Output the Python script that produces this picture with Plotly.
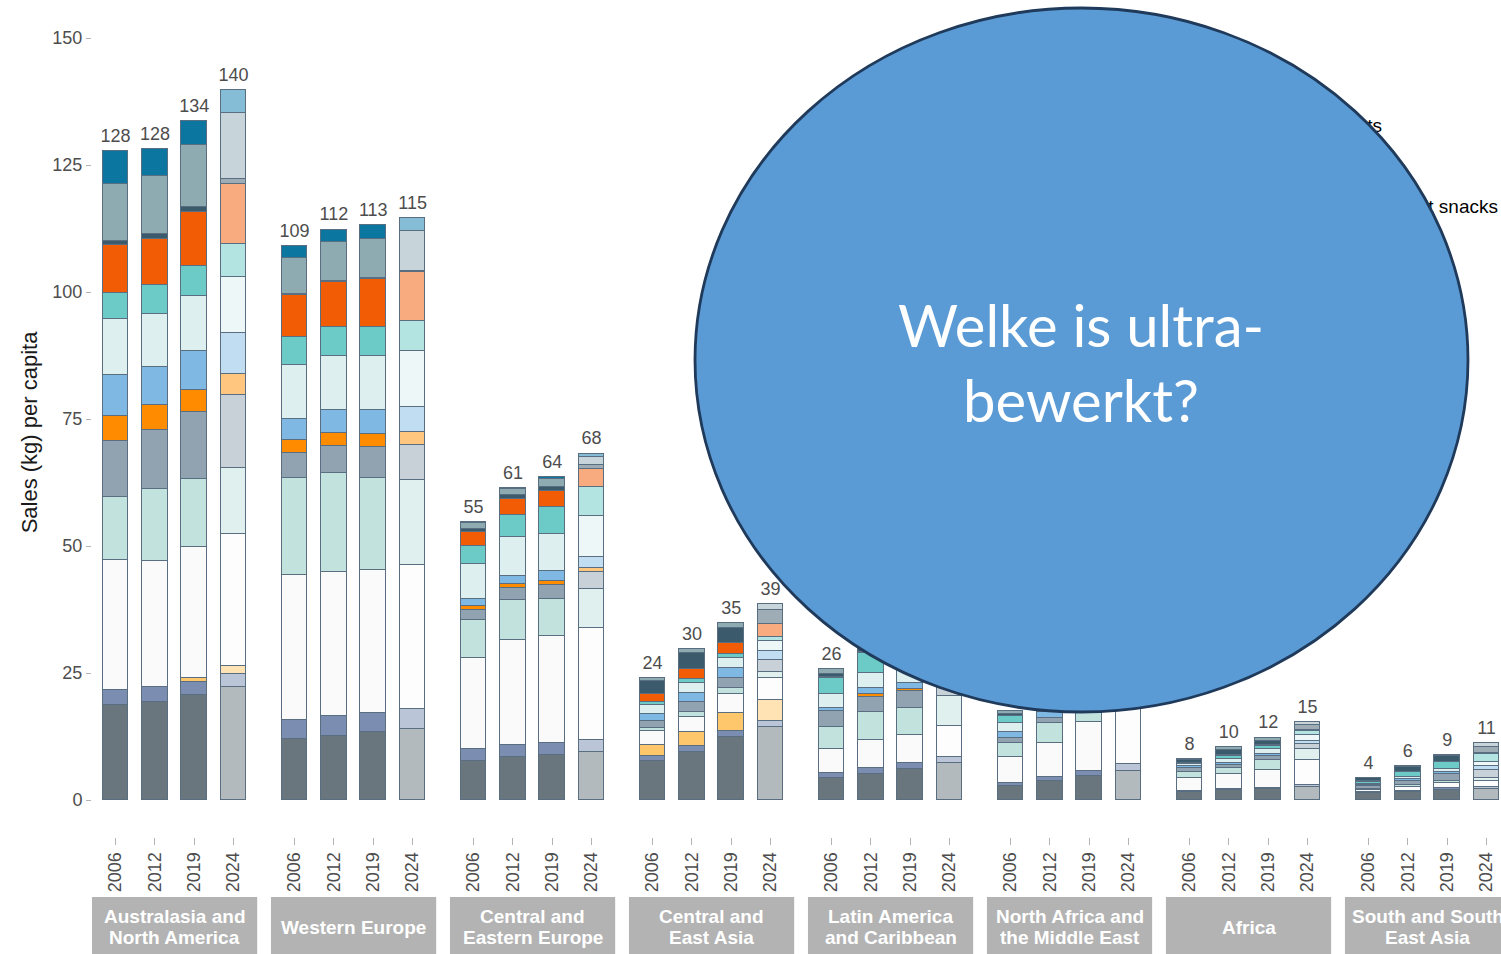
import plotly.graph_objects as go

# ---------------- data ----------------
regions = ["Australasia and<br>North America", "Western Europe", "Central and<br>Eastern Europe",
           "Central and<br>East Asia", "Latin America<br>and Caribbean", "North Africa and<br>the Middle East",
           "Africa", "South and South<br>East Asia"]
years = ["2006", "2012", "2019", "2024"]

# values per bar: region-major, years 2006, 2012, 2019, 2024
baked_goods = [18.8, 19.3, 20.7, 22.2, 12.1, 12.7, 13.3, 14.0, 7.7, 8.5, 8.9, 9.4, 7.6, 9.4, 12.5, 14.4,
               4.4, 5.2, 6.2, 7.2, 2.8, 3.8, 4.7, 5.7, 1.6, 2.0, 2.1, 2.6, 1.3, 1.6, 2.0, 2.2]
breakfast_cereals = [2.8, 3.0, 2.6, 2.7, 3.6, 3.9, 3.9, 3.9, 2.3, 2.3, 2.4, 2.5, 1.1, 1.2, 1.1, 1.1,
                     1.0, 1.2, 1.0, 1.3, 0.5, 0.8, 1.0, 1.3, 0.2, 0.2, 0.2, 0.4, 0.2, 0.2, 0.3, 0.3]
baby_food = [0, 0, 0.8, 1.4, 0, 0, 0, 0.1, 0, 0, 0, 0, 2.2, 2.7, 3.5, 4.1,
             0, 0, 0, 0, 0, 0, 0, 0, 0, 0, 0, 0, 0, 0, 0, 0]
dairy_products = [25.6, 24.8, 25.7, 26.0, 28.6, 28.3, 28.1, 28.3, 17.9, 20.7, 20.9, 22.0, 2.6, 3.1, 3.8, 4.4,
                  4.6, 5.5, 5.6, 6.1, 5.1, 6.6, 9.6, 11.5, 2.6, 2.9, 3.7, 4.8, 0.5, 0.8, 1.0, 1.3]
processed_meat = [12.5, 14.1, 13.3, 13.1, 19.0, 19.4, 18.0, 16.6, 7.5, 7.8, 7.3, 7.7, 0.7, 1.0, 1.2, 1.2,
                  4.3, 5.5, 5.4, 5.9, 2.8, 3.9, 3.5, 3.8, 1.2, 1.3, 1.9, 2.2, 0.2, 0.4, 0.5, 0.6]
ready_meals = [11.0, 11.6, 13.3, 14.3, 5.0, 5.4, 6.2, 6.9, 2.1, 2.5, 2.8, 3.2, 1.4, 1.8, 2.0, 2.3,
               3.2, 2.9, 3.2, 3.5, 1.1, 1.1, 1.3, 1.5, 0.8, 0.5, 0.8, 1.0, 0.6, 0.8, 1.3, 1.6]
sauces = [4.9, 5.0, 4.4, 4.2, 2.5, 2.5, 2.5, 2.6, 0.6, 0.7, 0.8, 0.8, 0, 0, 0, 0,
          0, 0.5, 0.4, 0.4, 0, 0, 0, 0, 0, 0, 0, 0, 0, 0, 0, 0]
ice_cream = [8.0, 7.5, 7.6, 8.0, 4.3, 4.5, 4.7, 5.0, 1.5, 1.6, 2.0, 2.2, 1.3, 1.8, 1.8, 1.8,
             0.7, 1.2, 1.2, 1.3, 1.0, 1.2, 1.3, 1.4, 0.3, 0.4, 0.4, 0.6, 0.2, 0.4, 0.5, 0.6]
spreads = [11.1, 10.4, 10.8, 11.0, 10.5, 10.8, 10.8, 10.9, 6.8, 7.7, 7.3, 8.1, 1.8, 2.0, 2.0, 2.0,
           2.6, 3.1, 3.3, 3.4, 1.9, 2.0, 2.2, 2.4, 0.3, 0.8, 1.0, 1.2, 0.2, 0.4, 0.5, 0.8]
confectionery = [5.2, 5.6, 5.9, 6.6, 5.6, 5.6, 5.7, 6.0, 3.7, 4.4, 5.3, 5.7, 0.5, 0.8, 0.8, 0.7,
                 3.3, 3.8, 4.2, 4.6, 1.3, 1.5, 1.7, 1.9, 0.2, 0.5, 0.5, 0.7, 0.4, 0.9, 1.3, 1.6]
sweet_biscuits = [9.3, 9.2, 10.6, 11.7, 8.2, 8.9, 9.4, 9.7, 2.7, 3.0, 3.1, 3.6, 1.6, 1.9, 2.3, 2.6,
                  0.1, 0.3, 0.3, 0.4, 0.1, 0.2, 0.2, 0.3, 0.1, 0.2, 0.2, 0.3, 0.1, 0.1, 0.1, 0.2]
instant_noodles = [0.9, 1.0, 1.1, 1.1, 0.2, 0.2, 0.2, 0.2, 0.6, 0.8, 0.8, 0.7, 2.6, 3.2, 2.8, 2.8,
                   0.7, 0.6, 0.6, 0.6, 0.3, 0.3, 0.3, 0.3, 0.5, 1.0, 0.9, 1.0, 0.6, 0.9, 1.1, 1.2]
savoury_snacks = [11.2, 11.4, 12.1, 13.0, 7.1, 7.6, 7.7, 7.8, 1.2, 1.3, 1.5, 1.7, 0.6, 0.8, 1.0, 1.2,
                  0.8, 0.9, 1.0, 1.1, 0.6, 0.7, 0.8, 0.9, 0.3, 0.7, 0.6, 0.6, 0.1, 0.2, 0.3, 0.9]
other_snacks = [6.5, 5.2, 4.8, 4.5, 2.3, 2.5, 2.6, 2.5, 0.2, 0.2, 0.5, 0.6, 0, 0, 0, 0,
                0, 0, 0, 0, 0, 0, 0, 0, 0, 0, 0, 0, 0, 0, 0, 0]

totals = [128, 128, 134, 140, 109, 112, 113, 115, 55, 61, 64, 68, 24, 30, 35, 39,
          26, 31, 32, 33, 18, 22, 27, 31, 8, 10, 12, 15, 4, 6, 9, 11]

series = [
    ("Baked goods", baked_goods, "#69767D", "#B3BABD"),
    ("Breakfast cereals", breakfast_cereals, "#7B8DB0", "#BAC5D8"),
    ("Baby food", baby_food, "#FFC76B", "#FFE3B5"),
    ("Dairy products", dairy_products, "#FAFAFA", "#FDFDFD"),
    ("Processed meat and seafood", processed_meat, "#C2E3DD", "#E0F0EE"),
    ("Ready meals", ready_meals, "#91A3B0", "#C8D0D8"),
    ("Sauces, dressings and condiments", sauces, "#FF8C00", "#FFC680"),
    ("Ice cream and frozen desserts", ice_cream, "#7FB9E3", "#C0DDF2"),
    ("Spreads", spreads, "#DDEFEF", "#EEF7F7"),
    ("Confectionery", confectionery, "#6CCBC6", "#B3E4E1"),
    ("Sweet biscuits, snack bars and fruit snacks", sweet_biscuits, "#F25C05", "#F9AB80"),
    ("Instant noodles", instant_noodles, "#3B5A6B", "#9DACB5"),
    ("Savoury snacks", savoury_snacks, "#8FABB2", "#C7D5DA"),
    ("Other snacks", other_snacks, "#0B77A0", "#85BDD6"),
]

legend_labels = ["Sauces, dressings and condiments", "Sweet biscuits, snack bars and fruit snacks"]

# ---------------- layout constants ----------------
W, H = 1501, 954
ML, MT = 92, 28
PW, PH = W - ML, 809
MB = H - MT - PH
UNIT = 39.33                 # px per bar slot
FACET_STEP = 4.551           # slots between facet starts
X_RANGE = [-0.6, -0.6 + PW / UNIT]
Y_RANGE = [-7.28, 151.97]
STRIP_LINE = 21              # px between strip text lines

def px_to_x(px):
    return X_RANGE[0] + (px - ML) / PW * (X_RANGE[1] - X_RANGE[0])

def py_to_y(py):
    return Y_RANGE[1] - (py - MT) / PH * (Y_RANGE[1] - Y_RANGE[0])

def paper_x(px):
    return (px - ML) / PW

def paper_y(py):
    return (MT + PH - py) / PH

n_years = len(years)
xpos = [r * FACET_STEP + j for r in range(len(regions)) for j in range(n_years)]
is_proj = [years[j] == "2024" for r in range(len(regions)) for j in range(n_years)]

fig = go.Figure()
for name, vals, c_main, c_proj in series:
    fig.add_trace(go.Bar(
        x=xpos, y=vals, name=name, width=0.65,
        marker=dict(color=[c_proj if p else c_main for p in is_proj],
                    line=dict(color="#5A6E81", width=1.5)),
        hovertemplate=name + ": %{y}<extra></extra>",
    ))

stack = [sum(s[1][i] for s in series) for i in range(len(xpos))]
fig.add_trace(go.Scatter(
    x=xpos, y=[v + 0.9 for v in stack], mode="text", text=[str(t) for t in totals],
    textposition="top center", textfont=dict(family="Arial", size=18, color="#4D4D4D"),
    cliponaxis=False, hoverinfo="skip", showlegend=False,
))

# legend labels (mostly hidden behind the circle)
fig.add_trace(go.Scatter(
    x=[px_to_x(1382), px_to_x(1498)], y=[py_to_y(127), py_to_y(208)],
    mode="text", text=legend_labels, textposition="middle left",
    textfont=dict(family="Arial", size=19, color="#000000"),
    cliponaxis=False, hoverinfo="skip", showlegend=False,
))

shapes = []
annotations = []
for r, reg in enumerate(regions):
    shapes.append(dict(type="rect", xref="x", yref="paper",
                       x0=r * FACET_STEP - 0.6, x1=r * FACET_STEP + n_years - 1 + 0.6,
                       y0=paper_y(960), y1=paper_y(897),
                       fillcolor="#B3B3B3", line=dict(width=0), layer="above"))
    lines = reg.split("<br>")
    for k, line in enumerate(lines):
        cy = 927 + (k - (len(lines) - 1) / 2) * STRIP_LINE
        annotations.append(dict(xref="x", yref="paper", x=r * FACET_STEP + (n_years - 1) / 2,
                                y=paper_y(cy), text="<b>" + line + "</b>", showarrow=False,
                                font=dict(family="Arial", size=19, color="white"),
                                xanchor="center", yanchor="middle"))

# overlay circle
shapes.append(dict(type="circle", xref="paper", yref="paper",
                   x0=paper_x(695), x1=paper_x(1468), y0=paper_y(712), y1=paper_y(8),
                   fillcolor="#5B9BD5", line=dict(color="#1F3A5A", width=2.8), layer="above"))
annotations.append(dict(xref="paper", yref="paper", x=paper_x(1081), y=paper_y(362),
                        text="Welke is ultra-<br>bewerkt?", showarrow=False,
                        font=dict(family="Lato", size=58, color="white"),
                        xanchor="center", yanchor="middle"))

fig.update_layout(
    width=W, height=H, margin=dict(l=ML, r=0, t=MT, b=MB),
    barmode="stack", bargap=0, showlegend=False,
    plot_bgcolor="white", paper_bgcolor="white",
    shapes=shapes, annotations=annotations,
    font=dict(family="Arial", color="#4D4D4D"),
)
fig.update_xaxes(range=X_RANGE, tickmode="array", tickvals=xpos, ticktext=years * len(regions),
                 tickangle=-90, ticks="outside", ticklen=7, tickcolor="#B3B3B3", tickwidth=1,
                 tickfont=dict(family="Arial", size=18, color="#4D4D4D"),
                 showgrid=False, zeroline=False, showline=False)
fig.update_yaxes(range=Y_RANGE, tickmode="array", tickvals=[0, 25, 50, 75, 100, 125, 150],
                 ticks="outside", ticklen=5, tickcolor="#B3B3B3", tickwidth=1,
                 tickfont=dict(family="Arial", size=18, color="#4D4D4D"),
                 showgrid=False, zeroline=False, showline=False,
                 title=dict(text="Sales (kg) per capita", font=dict(family="Arial", size=22, color="#1A1A1A"),
                            standoff=8))

fig.write_html("out.html", config={"displayModeBar": False},
               post_script="document.body.style.margin='0';document.body.style.overflow='hidden';")
